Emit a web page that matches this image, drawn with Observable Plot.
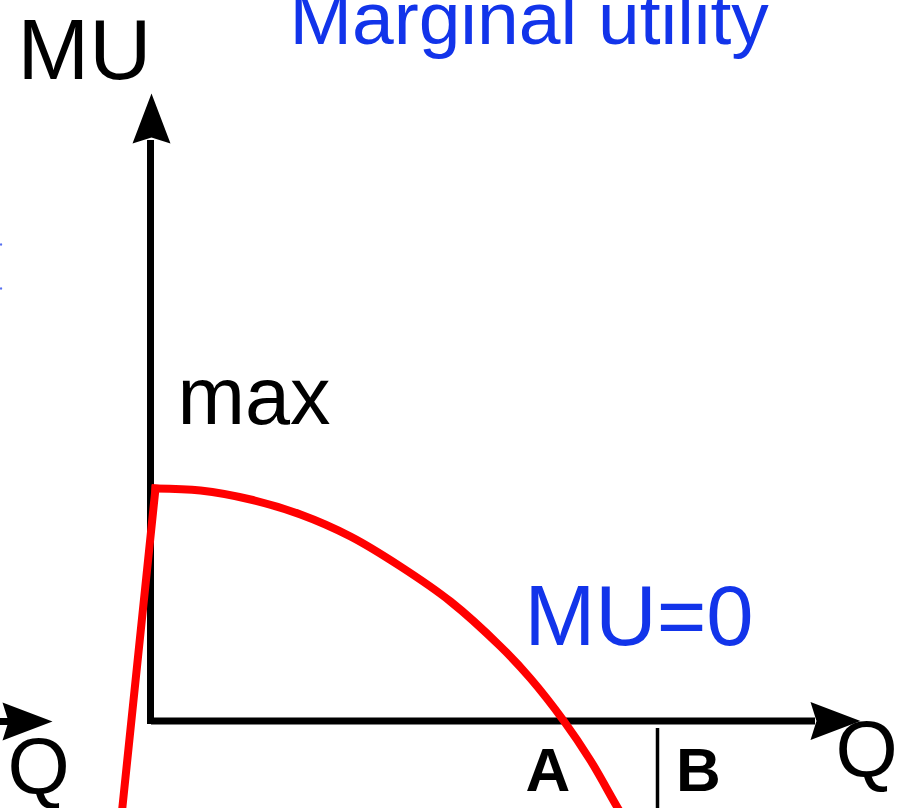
<!DOCTYPE html>
<html>
<head>
<meta charset="utf-8">
<script src="https://cdn.jsdelivr.net/npm/d3@7"></script>
<script src="https://cdn.jsdelivr.net/npm/@observablehq/plot@0.6"></script>
<style>
  html, body { margin: 0; padding: 0; background: #fff; }
  #chart svg { display: block; }
</style>
</head>
<body>
<div id="chart"></div>
<script>
// ---- data (Q and MU in arbitrary units; origin at the axis corner) ----
// falling part of the marginal-utility curve
const fallQ  = [0.05, 0.5, 1.0, 1.5, 2.0, 2.5, 3.0, 3.5, 3.8, 4.13, 4.4, 4.67, 4.75];
const fallMU = [2.32, 2.30, 2.21, 2.06, 1.84, 1.54, 1.19, 0.74, 0.42, 0.0, -0.40, -0.87, -1.0];
// steep rising part on the left
const riseQ  = [-0.30, 0.05];
const riseMU = [-1.05, 2.32];

// axis arrow tips (position, direction in degrees)
const arrowQ     = [0.01, 7.10, -0.98];
const arrowMU    = [6.27, -0.005, -0.01];
const arrowAngle = [0, 90, 90];

// regular-weight text labels
const labelText   = ["MU", "Marginal utility", "max", "MU=0", "Q", "Q"];
const labelQ      = [-1.33, 1.39, 0.27, 3.74, -1.43, 6.85];
const labelMU     = [6.42, 6.77, 2.97, 0.76, -0.73, -0.56];
const labelColor  = ["black", "#1234ea", "black", "#1234ea", "black", "black"];
const labelSize   = [86, 75, 81, 85, 80, 80];

// bold point labels
const pointText = ["A", "B"];
const pointQ    = [3.75, 5.255];
const pointMU   = [-0.70, -0.70];

// separator between A and B
const sepQ = 5.07;
const sepMU = [-0.08, -0.9];

// remnants of cut-off blue text at left edge
const specQ  = [-1.495, -1.495];
const specMU = [4.32, 4.76];

const fall = fallQ.map((q, i) => ({q, mu: fallMU[i]}));
const rise = riseQ.map((q, i) => ({q, mu: riseMU[i]}));
const arrows = arrowQ.map((q, i) => ({q, mu: arrowMU[i], angle: arrowAngle[i]}));
const labels = labelText.map((t, i) => ({t, q: labelQ[i], mu: labelMU[i], c: labelColor[i], s: labelSize[i]}));
const points = pointText.map((t, i) => ({t, q: pointQ[i], mu: pointMU[i]}));
const specks = specQ.map((q, i) => ({q, mu: specMU[i]}));

// filled, notched arrowhead with its tip at the origin, pointing up
const arrowSymbol = {
  draw(ctx) {
    ctx.moveTo(0, 0);
    ctx.lineTo(19, 50);
    ctx.lineTo(0, 44);
    ctx.lineTo(-19, 50);
    ctx.closePath();
  }
};

const font = "'Liberation Sans', Arial, Helvetica, sans-serif";

const chart = Plot.plot({
  width: 913,
  height: 808,
  margin: 0,
  x: {domain: [-1.5, 7.63], axis: null},
  y: {domain: [-0.88, 7.2], axis: null},
  marks: [
    // axes
    Plot.ruleX([0], {x: d => d, y1: -0.04, y2: 5.8, stroke: "black", strokeWidth: 7}),
    Plot.ruleY([-0.005], {y: d => d, x1: 0.01, x2: 6.65, stroke: "black", strokeWidth: 7}),
    Plot.ruleY([-0.01], {y: d => d, x1: -1.6, x2: -1.2, stroke: "black", strokeWidth: 7}),
    Plot.dot(arrows, {x: "q", y: "mu", rotate: "angle", symbol: arrowSymbol, fill: "black", stroke: "none", r: 5}),
    // A | B separator
    Plot.ruleX([sepQ], {x: d => d, y1: sepMU[0], y2: sepMU[1], stroke: "black", strokeWidth: 3.5}),
    // MU curve
    Plot.line(rise, {x: "q", y: "mu", stroke: "#ff0000", strokeWidth: 8, strokeLinecap: "square", clip: true}),
    Plot.line(fall, {x: "q", y: "mu", stroke: "#ff0000", strokeWidth: 8, curve: "catmull-rom", strokeLinecap: "square", clip: true}),
    // labels
    Plot.text(labels, {
      x: "q", y: "mu", text: "t", fill: "c", fontSize: "s",
      textAnchor: "start", lineAnchor: "bottom", fontFamily: font
    }),
    Plot.text(points, {
      x: "q", y: "mu", text: "t", fill: "black", fontSize: 62, fontWeight: "bold",
      textAnchor: "start", lineAnchor: "bottom", fontFamily: font
    }),
    Plot.dot(specks, {x: "q", y: "mu", r: 1.2, fill: "#1234ea", stroke: "none", fillOpacity: 0.7})
  ]
});

document.getElementById("chart").appendChild(chart);
</script>
</body>
</html>
